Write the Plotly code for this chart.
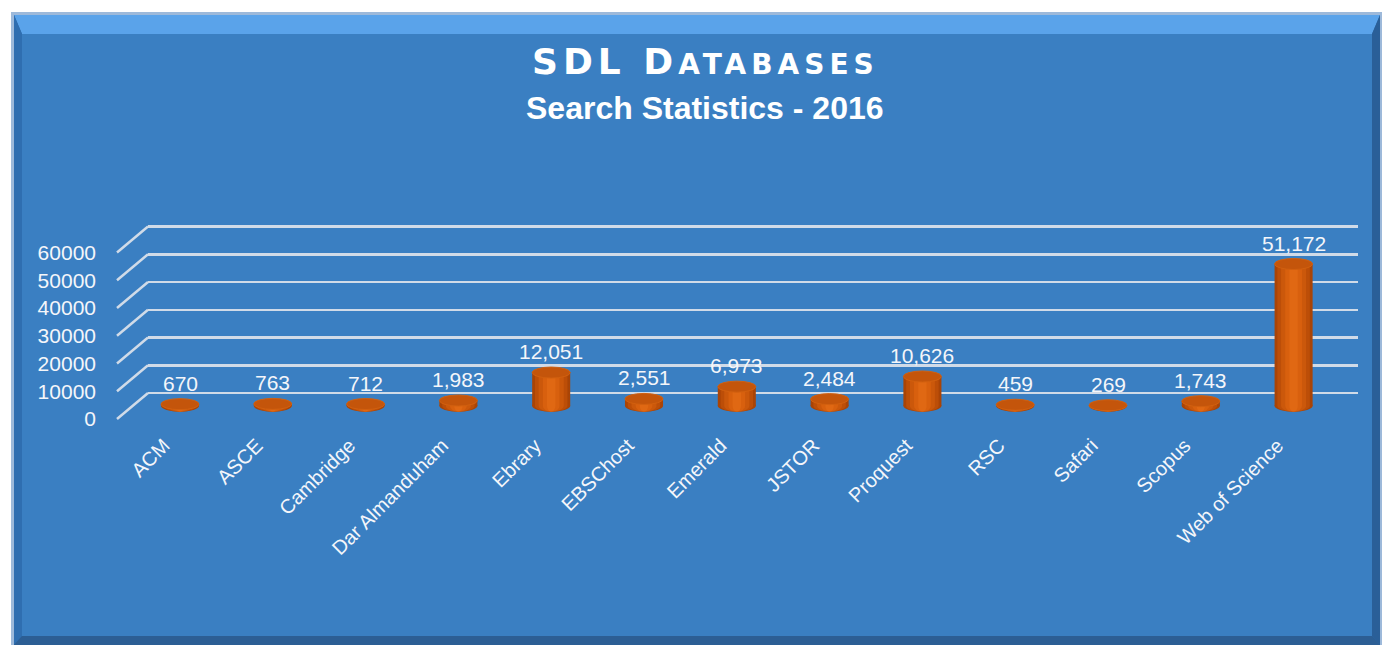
import plotly.graph_objects as go

# ---------------- data ----------------
categories = ["ACM", "ASCE", "Cambridge", "Dar Almanduham", "Ebrary", "EBSChost",
              "Emerald", "JSTOR", "Proquest", "RSC", "Safari", "Scopus", "Web of Science"]
searches = [670, 763, 712, 1983, 12051, 2551, 6973, 2484, 10626, 459, 269, 1743, 51172]
y_ticks = [0, 10000, 20000, 30000, 40000, 50000, 60000]
title_main = ("<span style='letter-spacing:5px'>SDL D<span style='font-size:28px'>ATABASES</span></span>")
title_sub = "<b>Search Statistics - 2016</b>"

# ---------------- geometry helpers (pixels -> axis units) ----------------
W, H = 1382, 645
PX_PER_UNIT = 27.75 / 10000.0        # vertical scale
U = 1.0 / PX_PER_UNIT                  # units per pixel
CAT_PX = 92.8                          # pixels per category
dom_top, dom_bot = 190, 430            # plot domain (pixels from top)
dom_left, dom_right = 148, 1358
base_px = 406                          # pixel of value 0 for bars (mid depth)
back_dy, front_dy = -13, 13            # back wall / front offset from mid depth
first_cat_px = 180
label_shift_px = 16


def px_x(p):
    return p / W


def px_y(p):
    return 1 - p / H


def yrange(zero_px):
    return [(zero_px - dom_bot) * U, (zero_px - dom_top) * U]


xr = [(dom_left - first_cat_px) / CAT_PX, (dom_right - first_cat_px) / CAT_PX]
xr2 = [xr[0] + label_shift_px / CAT_PX, xr[1] + label_shift_px / CAT_PX]
idx = list(range(len(categories)))

fig = go.Figure()

# cylinder bodies: shading bands (outer dark -> inner light)
bands = [(0.41, "#A94406"), (0.35, "#BC4E08"), (0.27, "#CB580B"), (0.18, "#D8600E"), (0.09, "#E06813")]
for w, col in bands:
    fig.add_trace(go.Bar(x=idx, y=searches, width=w, marker=dict(color=col, line=dict(width=0)),
                         hoverinfo="skip", showlegend=False))

# invisible traces to activate the label axes
fig.add_trace(go.Scatter(x=idx, y=searches, xaxis="x2", yaxis="y3", mode="markers",
                         marker=dict(opacity=0), hoverinfo="skip", showlegend=False))
fig.add_trace(go.Scatter(x=idx, y=searches, xaxis="x", yaxis="y2", mode="markers",
                         marker=dict(opacity=0), hoverinfo="skip", showlegend=False))

shapes = []
# panel with bevel
shapes += [
    dict(type="rect", xref="paper", yref="paper", x0=px_x(11), x1=px_x(1382), y0=px_y(645), y1=px_y(12),
         fillcolor="#9DB9DA", line=dict(width=0), layer="below"),
    dict(type="rect", xref="paper", yref="paper", x0=px_x(14), x1=px_x(1380), y0=px_y(645), y1=px_y(15),
         fillcolor="#2E6AA8", line=dict(width=0), layer="below"),
    dict(type="path", xref="paper", yref="paper",
         path=f"M {px_x(14)} {px_y(15)} L {px_x(1380)} {px_y(15)} L {px_x(1372)} {px_y(34)} L {px_x(22)} {px_y(34)} Z",
         fillcolor="#5AA3EA", line=dict(width=0), layer="below"),
    dict(type="path", xref="paper", yref="paper",
         path=f"M {px_x(14)} {px_y(15)} L {px_x(22)} {px_y(34)} L {px_x(22)} {px_y(636)} L {px_x(14)} {px_y(645)} Z",
         fillcolor="#2F6EB0", line=dict(width=0), layer="below"),
    dict(type="path", xref="paper", yref="paper",
         path=f"M {px_x(14)} {px_y(645)} L {px_x(22)} {px_y(636)} L {px_x(1372)} {px_y(636)} L {px_x(1380)} {px_y(645)} Z",
         fillcolor="#2C5E94", line=dict(width=0), layer="below"),
    dict(type="path", xref="paper", yref="paper",
         path=f"M {px_x(1380)} {px_y(15)} L {px_x(1372)} {px_y(34)} L {px_x(1372)} {px_y(636)} L {px_x(1380)} {px_y(645)} Z",
         fillcolor="#2A5F98", line=dict(width=0), layer="below"),
    dict(type="rect", xref="paper", yref="paper", x0=px_x(22), x1=px_x(1372), y0=px_y(636), y1=px_y(34),
         fillcolor="#3A7FC2", line=dict(width=0), layer="below"),
]

# side wall diagonals (front -> back) for each tick
for t in y_ticks:
    shapes.append(dict(type="path", xref="paper", yref="y2",
                       path=f"M {px_x(117)} {t - (front_dy - back_dy) * U} L {px_x(dom_left)} {t}",
                       line=dict(color="#D0DBE8", width=2.5), layer="below"))

# cylinder bottoms and tops
e = 5.5 * U
for i, v in zip(idx, searches):
    for w, col in bands:
        shapes.append(dict(type="circle", xref="x", yref="y", x0=i - w / 2, x1=i + w / 2,
                           y0=-e, y1=e, fillcolor=col, line=dict(width=0), layer="between"))
    shapes.append(dict(type="circle", xref="x", yref="y", x0=i - 0.205, x1=i + 0.205,
                       y0=v - e, y1=v + e, fillcolor="#C4550B", line=dict(color="#D2600F", width=1),
                       layer="above"))

annotations = []
for i, v in zip(idx, searches):
    annotations.append(dict(x=i, y=v, xref="x", yref="y", text=f"{v:,}", showarrow=False,
                            yshift=21, yanchor="middle", xanchor="center",
                            font=dict(family="Liberation Sans, Arial", size=21, color="#F4F6FA")))

annotations.append(dict(x=px_x(705), y=px_y(61), xref="paper", yref="paper", text=title_main,
                        showarrow=False, xanchor="center", yanchor="middle",
                        font=dict(family="DejaVu Sans", size=36, weight="bold", color="white")))
annotations.append(dict(x=px_x(705), y=px_y(108), xref="paper", yref="paper", text=title_sub,
                        showarrow=False, xanchor="center", yanchor="middle",
                        font=dict(family="Liberation Sans, Arial", size=32, color="white")))

fig.update_layout(
    template="none",
    width=W, height=H,
    margin=dict(l=0, r=0, t=0, b=0, pad=0),
    paper_bgcolor="white", plot_bgcolor="rgba(0,0,0,0)",
    barmode="overlay", showlegend=False,
    shapes=shapes, annotations=annotations,
    xaxis=dict(domain=[px_x(dom_left), px_x(dom_right)], range=xr, showgrid=False,
               showticklabels=False, zeroline=False, showline=False, ticks="", automargin=False),
    xaxis2=dict(overlaying="x", anchor="free", position=px_y(429), range=xr2, tickvals=idx,
                ticktext=categories, tickangle=-45, showgrid=False, zeroline=False, showline=False,
                ticks="", automargin=False,
                tickfont=dict(family="Liberation Sans, Arial", size=20, color="#F4F6FA")),
    yaxis=dict(domain=[px_y(dom_bot), px_y(dom_top)], range=yrange(base_px), showgrid=False,
               showticklabels=False, zeroline=False, showline=False, ticks="", automargin=False),
    yaxis2=dict(overlaying="y", anchor="x", range=yrange(base_px + back_dy), tickvals=y_ticks,
                showgrid=True, gridcolor="#D0DBE8", gridwidth=2.5, showticklabels=False,
                zeroline=False, showline=False, ticks="", automargin=False),
    yaxis3=dict(overlaying="y", anchor="free", position=px_x(96), range=yrange(base_px + front_dy),
                tickvals=y_ticks, ticktext=[str(t) for t in y_ticks], showgrid=False, zeroline=False,
                showline=False, ticks="", side="left", automargin=False,
                tickfont=dict(family="Liberation Sans, Arial", size=21, color="#F4F6FA")),
)

fig.write_html("out.html", config={"displayModeBar": False, "staticPlot": True},
               post_script="document.body.style.margin='0';document.body.style.overflow='hidden';")
